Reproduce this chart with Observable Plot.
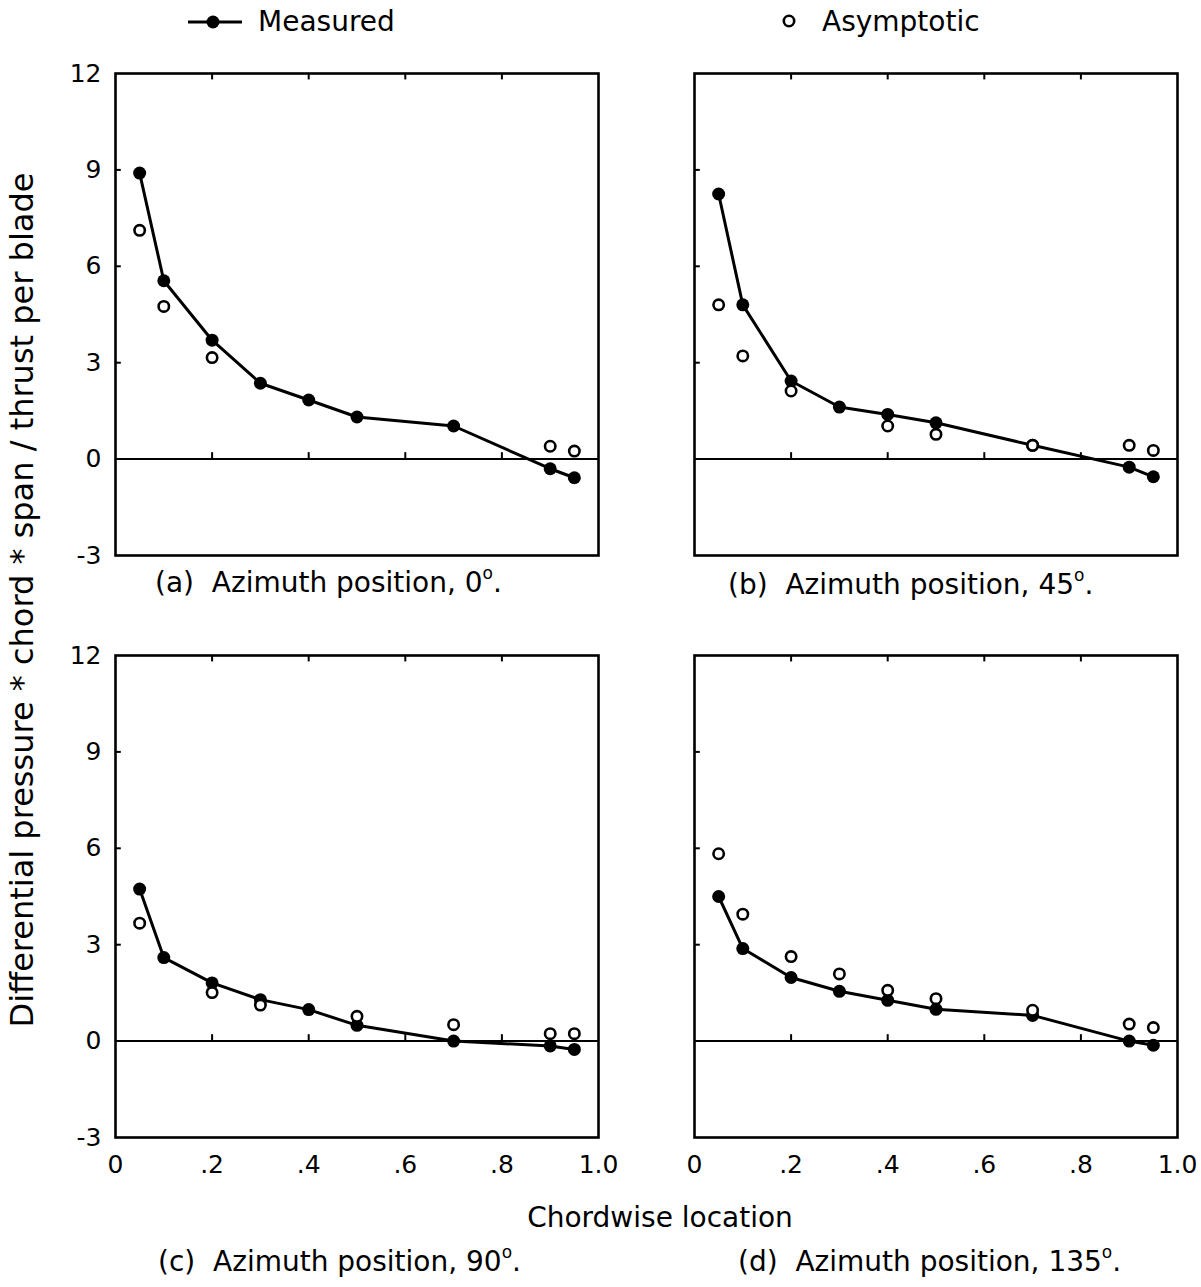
<!DOCTYPE html>
<html>
<head>
<meta charset="utf-8">
<script src="https://cdn.jsdelivr.net/npm/d3@7"></script>
<script src="https://cdn.jsdelivr.net/npm/@observablehq/plot@0.6"></script>
<style>
  html, body { margin: 0; padding: 0; background: #fff; }
  #root { position: relative; width: 1201px; height: 1287px; font-family: "DejaVu Sans", sans-serif; color: #000; overflow: hidden; }
  .abs { position: absolute; white-space: nowrap; }
  .txt { font-size: 28px; line-height: 1; }
  sup { font-size: 17px; vertical-align: 0; position: relative; top: -13px; }
</style>
</head>
<body>
<div id="root"></div>
<script>
// ---- data ----
const chordX = [0.05, 0.1, 0.2, 0.3, 0.4, 0.5, 0.7, 0.9, 0.95];

const measuredA = [8.9, 5.55, 3.7, 2.36, 1.84, 1.31, 1.03, -0.3, -0.58];
const asymA_x = [0.05, 0.1, 0.2, 0.9, 0.95];
const asymA = [7.12, 4.75, 3.16, 0.40, 0.25];

const measuredB = [8.25, 4.8, 2.43, 1.62, 1.39, 1.13, 0.43, -0.25, -0.55];
const asymB_x = [0.05, 0.1, 0.2, 0.4, 0.5, 0.7, 0.9, 0.95];
const asymB = [4.8, 3.21, 2.12, 1.03, 0.77, 0.43, 0.43, 0.27];

const measuredC = [4.73, 2.6, 1.81, 1.29, 0.98, 0.49, 0.0, -0.15, -0.26];
const asymC_x = [0.05, 0.2, 0.3, 0.5, 0.7, 0.9, 0.95];
const asymC = [3.67, 1.51, 1.12, 0.77, 0.51, 0.23, 0.23];

const measuredD = [4.5, 2.88, 1.98, 1.55, 1.27, 0.99, 0.8, 0.0, -0.13];
const asymD_x = [0.05, 0.1, 0.2, 0.3, 0.4, 0.5, 0.7, 0.9, 0.95];
const asymD = [5.83, 3.95, 2.63, 2.09, 1.58, 1.32, 0.96, 0.53, 0.42];

const xTicks = [0, 0.2, 0.4, 0.6, 0.8, 1.0];
const xTickLabels = ["0", ".2", ".4", ".6", ".8", "1.0"];
const yTicks = [-3, 0, 3, 6, 9, 12];
const yTickLabels = ["-3", "0", "3", "6", "9", "12"];
const innerTicksX = [0.2, 0.4, 0.6, 0.8];
const innerTicksY = [3, 6, 9];

const legendLabels = ["Measured", "Asymptotic"];
const captions = [
  "(a)&nbsp; Azimuth position, 0<sup>o</sup>.",
  "(b)&nbsp; Azimuth position, 45<sup>o</sup>.",
  "(c)&nbsp; Azimuth position, 90<sup>o</sup>.",
  "(d)&nbsp; Azimuth position, 135<sup>o</sup>."
];
const xLabel = "Chordwise location";
const yLabel = "Differential pressure * chord * span / thrust per blade";

// ---- layout ----
const root = document.getElementById("root");
const FW = 483, FH = 482;
const ML = 60, MR = 12, MT = 12, MB = 52;

function panel(measured, ax, ay, frameLeft, frameTop, showY, showX) {
  const mData = chordX.map((x, i) => ({x, y: measured[i]}));
  const aData = ax.map((x, i) => ({x, y: ay[i]}));
  const fmtX = d => xTickLabels[xTicks.indexOf(d)] ?? String(d);
  const fmtY = d => yTickLabels[yTicks.indexOf(d)] ?? String(d);
  const chart = Plot.plot({
    width: FW + ML + MR,
    height: FH + MT + MB,
    marginLeft: ML, marginRight: MR, marginTop: MT, marginBottom: MB,
    style: {fontFamily: "DejaVu Sans, sans-serif", fontSize: "25px", color: "#000", background: "transparent", overflow: "visible"},
    x: {domain: [0, 1], ticks: xTicks, tickFormat: fmtX, tickSize: 0, tickPadding: 18, label: null, axis: showX ? "bottom" : null},
    y: {domain: [-3, 12], ticks: yTicks, tickFormat: fmtY, tickSize: 0, tickPadding: 14, label: null, axis: showY ? "left" : null},
    marks: [
      Plot.ruleY([0], {stroke: "#000", strokeWidth: 2}),
      Plot.ruleY(innerTicksY, {x1: 0, x2: 0.012, stroke: "#000", strokeWidth: 2}),
      Plot.ruleX(innerTicksX, {y1: 12, y2: 11.8, stroke: "#000", strokeWidth: 2}),
      Plot.ruleX(innerTicksX, {y1: 0, y2: 0.2, stroke: "#000", strokeWidth: 2}),
      Plot.frame({stroke: "#000", strokeWidth: 2.6}),
      Plot.line(mData, {x: "x", y: "y", stroke: "#000", strokeWidth: 3}),
      Plot.dot(mData, {x: "x", y: "y", r: 6.5, fill: "#000", stroke: "none"}),
      Plot.dot(aData, {x: "x", y: "y", r: 5.2, fill: "#fff", stroke: "#000", strokeWidth: 2.6})
    ]
  });
  chart.style.position = "absolute";
  chart.style.left = (frameLeft - ML) + "px";
  chart.style.top = (frameTop - MT) + "px";
  root.appendChild(chart);
}

panel(measuredA, asymA_x, asymA, 115, 73, true, false);
panel(measuredB, asymB_x, asymB, 694, 73, false, false);
panel(measuredC, asymC_x, asymC, 115, 655, true, true);
panel(measuredD, asymD_x, asymD, 694, 655, false, true);

function addText(html, left, top, extra) {
  const d = document.createElement("div");
  d.className = "abs txt";
  d.innerHTML = html;
  d.style.left = left + "px";
  d.style.top = top + "px";
  if (extra) Object.assign(d.style, extra);
  root.appendChild(d);
  return d;
}

// legend
const lg = document.createElementNS("http://www.w3.org/2000/svg", "svg");
lg.setAttribute("width", 1201); lg.setAttribute("height", 50);
lg.style.position = "absolute"; lg.style.left = "0px"; lg.style.top = "0px";
lg.innerHTML = `
  <line x1="188" y1="22" x2="242" y2="22" stroke="#000" stroke-width="3"/>
  <circle cx="213" cy="22" r="6.5" fill="#000"/>
  <circle cx="789" cy="21" r="5.2" fill="#fff" stroke="#000" stroke-width="2.6"/>`;
root.appendChild(lg);
addText(legendLabels[0], 258, 8);
addText(legendLabels[1], 822, 8);

// captions
addText(captions[0], 155, 569);
addText(captions[1], 728, 571);
addText(captions[2], 158, 1248);
addText(captions[3], 738, 1248);

// axis titles
addText(xLabel, 660, 1204, {transform: "translateX(-50%)"});
const yl = addText(yLabel, 0, 0, {fontSize: "32px"});
yl.style.left = "22px";
yl.style.top = "600px";
yl.style.transform = "translate(-50%, -50%) rotate(-90deg)";
</script>
</body>
</html>
